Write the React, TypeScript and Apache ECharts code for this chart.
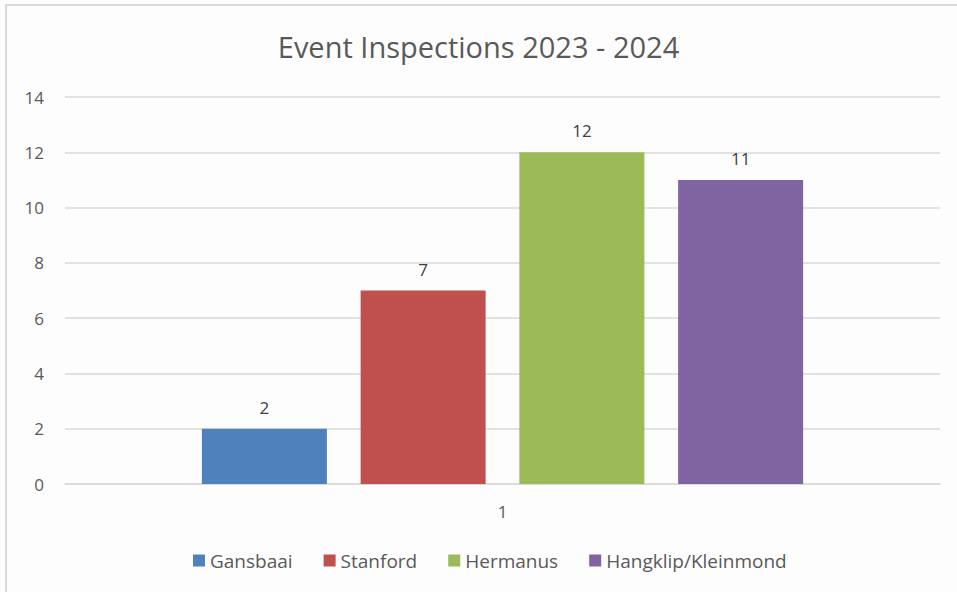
import React, { useEffect, useRef } from "react";
import * as echarts from "echarts";

const categories = ["1"];
const seriesNames = ["Gansbaai", "Stanford", "Hermanus", "Hangklip/Kleinmond"];
const seriesValues = [[2], [7], [12], [11]];
const seriesColors = ["#4F81BD", "#C0504D", "#9BBB59", "#8064A2"];
const yTicks = { min: 0, max: 14, interval: 2 };

export default function App() {
  const ref = useRef<HTMLDivElement>(null);
  useEffect(() => {
    if (!ref.current) return;
    const chart = echarts.init(ref.current, undefined, { renderer: "svg" });
    const font = "'Open Sans', sans-serif";
    chart.setOption({
      animation: false,
      backgroundColor: "#fdfdfd",
      title: {
        text: "Event Inspections 2023 - 2024",
        left: "center",
        top: 27,
        textStyle: { fontFamily: font, fontSize: 29, fontWeight: "normal", color: "#595959" },
      },
      legend: {
        bottom: 17,
        left: 188,
        itemWidth: 12,
        itemHeight: 12,
        itemGap: 31,
        icon: "rect",
        textStyle: { fontFamily: font, fontSize: 19, color: "#595959" },
        data: seriesNames,
      },
      grid: { left: 65, right: 17, top: 97, bottom: 108, containLabel: false },
      xAxis: {
        type: "category",
        data: categories,
        axisTick: { show: false },
        axisLine: { lineStyle: { color: "#d9d9d9", width: 1.5 } },
        axisLabel: { fontFamily: font, fontSize: 17, color: "#595959", margin: 19 },
      },
      yAxis: {
        type: "value",
        min: yTicks.min,
        max: yTicks.max,
        interval: yTicks.interval,
        axisLine: { show: false },
        axisTick: { show: false },
        splitLine: { lineStyle: { color: "#d9d9d9", width: 1.5 } },
        axisLabel: { fontFamily: font, fontSize: 17, color: "#595959", margin: 21 },
      },
      series: seriesNames.map((name, i) => ({
        name,
        type: "bar",
        data: seriesValues[i],
        barWidth: 125,
        barGap: "27%",
        itemStyle: { color: seriesColors[i] },
        label: {
          show: true,
          position: "top",
          distance: 13,
          fontFamily: font,
          fontSize: 17,
          color: "#404040",
        },
      })),
      graphic: [
        {
          type: "rect",
          shape: { x: 6, y: 5, width: 960, height: 600 },
          style: { fill: "none", stroke: "#d9d9d9", lineWidth: 2 },
          silent: true,
        },
      ],
    });
    return () => chart.dispose();
  }, []);
  return (
    <div
      ref={ref}
      style={{ position: "fixed", left: 0, top: 0, width: 957, height: 592 }}
    />
  );
}
